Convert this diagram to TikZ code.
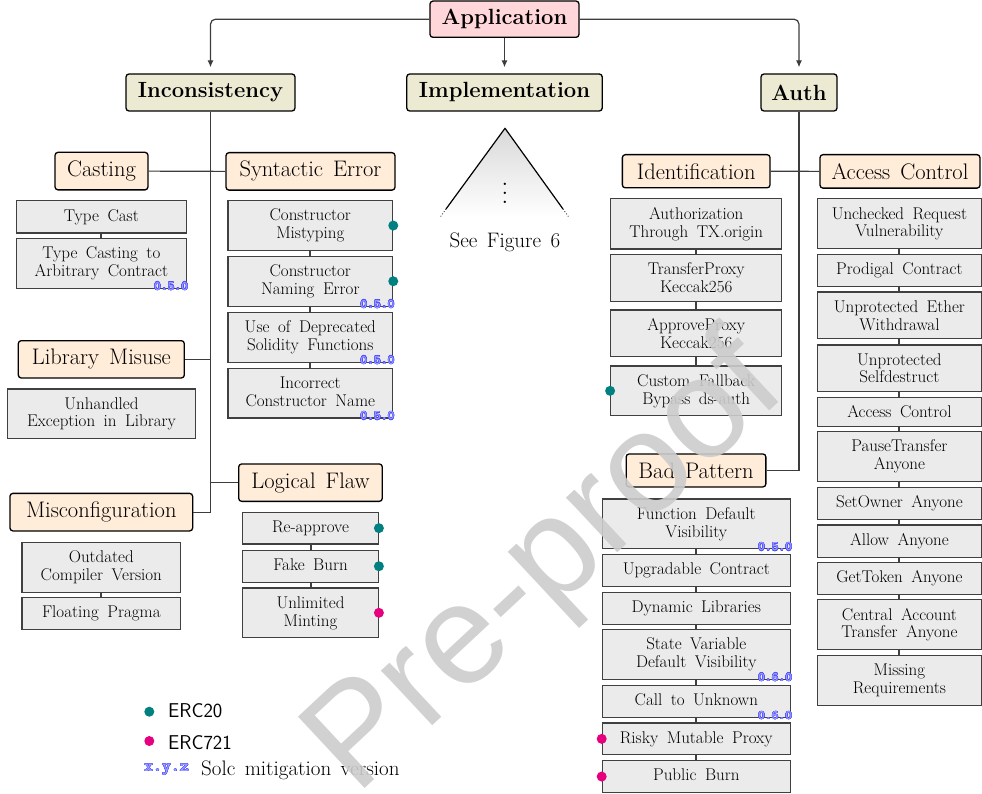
\documentclass[tikz,border=0pt]{standalone}
\usepackage{fontspec}
\usepackage{contour}
\usetikzlibrary{arrows.meta}
\newfontfamily\wmfont{Liberation Sans}

\definecolor{appfill}{RGB}{255,214,217}
\definecolor{lvlfill}{RGB}{237,234,211}
\definecolor{catfill}{RGB}{255,236,217}
\definecolor{itemfill}{RGB}{235,235,235}
\definecolor{itemline}{RGB}{64,64,64}
\definecolor{connline}{RGB}{60,60,60}
\definecolor{ercA}{RGB}{0,128,128}
\definecolor{ercB}{RGB}{230,0,126}
\definecolor{verline}{RGB}{80,80,255}
\definecolor{verfill}{RGB}{160,160,255}

\contourlength{0.45pt}
\newcommand\ver[1]{\contour{verline}{\textcolor{verfill}{#1}}}
\newcommand\itemfont{\fontsize{17}{17.9}\selectfont\spaceskip=0.5em plus 0.1em minus 0.05em\relax}
\newcommand\catfont{\fontsize{22.5}{27}\selectfont\spaceskip=0.45em plus 0.1em minus 0.05em\relax}
\newcommand\lvlfont{\fontsize{22}{26}\selectfont\bfseries}
\newcommand\verfont{\fontsize{13}{13}\selectfont\ttfamily\bfseries}
\newcommand\legverfont{\fontsize{17}{17}\selectfont\ttfamily\bfseries}
\newcommand\legfont{\fontsize{20}{24}\selectfont\sffamily}
\newcommand\notefont{\fontsize{21}{25}\selectfont\spaceskip=0.45em plus 0.1em minus 0.05em\relax}
\newcommand\markfont{\wmfont\fontsize{142}{142}\selectfont}

\tikzset{
  lvl/.style={draw=black, line width=1.3pt, rounded corners=3pt, fill=lvlfill,
    font=\lvlfont, minimum height=37pt, inner sep=0pt},
  appbox/.style={lvl, fill=appfill, minimum height=36.3pt},
  cat/.style={draw=black, line width=1.3pt, rounded corners=3pt, fill=catfill,
    font=\catfont, inner xsep=0pt, inner ysep=8.6pt, anchor=north},
  item/.style={draw=itemline, line width=1.2pt, fill=itemfill, font=\itemfont,
    align=center, inner xsep=1pt, inner ysep=8.4pt, anchor=north},
  dp/.style={text depth=3.3pt},
  conn/.style={draw=connline, line width=1.2pt},
  arr/.style={conn, rounded corners=5pt, -{Latex[length=7pt,width=6pt]}, shorten >=6pt},
  link/.style={draw=itemline, line width=2pt},
  dotA/.style={circle, fill=ercA, inner sep=0pt, minimum size=10pt},
  dotB/.style={circle, fill=ercB, inner sep=0pt, minimum size=10pt},
  ver/.style={font=\verfont, inner sep=0pt, anchor=base east},
  wm/.style={font=\markfont, text=black!20, opacity=0.9, rotate=43, inner sep=0pt}
}

\begin{document}
\begin{tikzpicture}[x=1pt, y=-1pt]
\useasboundingbox (0,0) rectangle (982,794);

% ---- top levels ----
\node[appbox, minimum width=149pt] (app) at (504.5,19.2) {Application};
\node[lvl, minimum width=169pt] (inc) at (210.5,92.5) {Inconsistency};
\node[lvl, minimum width=195.5pt] (impl) at (504.5,92.5) {Implementation};
\node[lvl, minimum width=76pt] (auth) at (799,92.5) {Auth};

\draw[arr] (app.west) -| (inc.north);
\draw[arr] (app.south) -- (impl.north);
\draw[arr] (app.east) -| (auth.north);

% ---- categories ----
\node[cat, minimum width=93pt] (cast) at (101.5,151.7) {Casting};
\node[cat, minimum width=169pt] (syn) at (310.5,152) {Syntactic Error};
\node[cat, minimum width=166pt] (lib) at (101.3,340) {Library Misuse};
\node[cat, minimum width=182.7pt] (misc) at (101.3,492.7) {Misconfiguration};
\node[cat, minimum width=143.6pt] (logic) at (310.5,463.3) {Logical Flaw};
\node[cat, minimum width=147.7pt] (ident) at (696.2,154) {Identification};
\node[cat, minimum width=160pt] (acc) at (900,154) {Access Control};
\node[cat, minimum width=139.7pt] (bad) at (696,453.3) {Bad Pattern};

\draw[conn] (cast.east) -- (syn.west);
\draw[conn] (ident.east) -- (acc.west);
\draw[conn] (inc.south) |- (misc.east);
\draw[conn] (lib.east) -- (lib.east -| inc.south);
\draw[conn] (logic.west -| inc.south) -- (logic.west);
\draw[conn] (auth.south) |- (bad.east);

% ---- implementation subtree placeholder ----
\shade[top color=black!15, bottom color=white] (505,128) -- (440,217.5) -- (569,217.5) -- cycle;
\draw[line width=1.2pt, line join=round] (446,209) -- (505,128.3) -- (563,209);
\draw[line width=0.8pt, dotted] (446,209) -- (440,217.5);
\draw[line width=0.8pt, dotted] (563,209) -- (569,217.5);
\node[inner sep=0pt] (dots) at (505,187) {\scalebox{2.2}{$\vdots$}};
\node[font=\notefont, inner sep=0pt] (see) at (505,242) {See Figure 6};

% ---- Casting ----
\node[item, minimum width=170pt] (c1) at (101.3,200.3) {Type Cast};
\node[item, minimum width=170pt] (c2) at (101.3,237.7) {Type Casting to\\Arbitrary Contract};
\draw[link] (c1.south) -- (c2.north);
\node[ver] (vc2) at ([xshift=1.5pt,yshift=-1.3pt]c2.south east) {\ver{0.5.0}};

% ---- Syntactic Error ----
\node[item, dp, minimum width=164.7pt] (s1) at (310.3,200) {Constructor\\Mistyping};
\node[item, dp, minimum width=164.7pt] (s2) at (310.3,255.7) {Constructor\\Naming Error};
\node[item, dp, minimum width=164.7pt] (s3) at (310.3,311.7) {Use of Deprecated\\Solidity Functions};
\node[item, dp, minimum width=164.7pt] (s4) at (310.3,367.7) {Incorrect\\Constructor Name};
\draw[link] (s1.south) -- (s2.north);
\draw[link] (s2.south) -- (s3.north);
\draw[link] (s3.south) -- (s4.north);
\node[dotA] (ds1) at (s1.east) {};
\node[dotA] (ds2) at (s2.east) {};
\node[ver] (vs2) at ([xshift=1.5pt,yshift=-1.3pt]s2.south east) {\ver{0.5.0}};
\node[ver] (vs3) at ([xshift=1.5pt,yshift=-1.3pt]s3.south east) {\ver{0.5.0}};
\node[ver] (vs4) at ([xshift=1.5pt,yshift=-1.3pt]s4.south east) {\ver{0.5.0}};

% ---- Library Misuse ----
\node[item, minimum width=188.4pt] (l1) at (101.5,388.3) {Unhandled\\Exception in Library};

% ---- Misconfiguration ----
\node[item, minimum width=158.7pt] (m1) at (101.3,541.7) {Outdated\\Compiler Version};
\node[item, minimum width=158.7pt] (m2) at (101.3,597) {Floating Pragma};
\draw[link] (m1.south) -- (m2.north);

% ---- Logical Flaw ----
\node[item, dp, minimum width=135.6pt] (f1) at (310.5,511.7) {Re-approve};
\node[item, dp, minimum width=135.6pt] (f2) at (310.5,549.7) {Fake Burn};
\node[item, dp, minimum width=135.6pt] (f3) at (310.5,587.3) {Unlimited\\Minting};
\draw[link] (f1.south) -- (f2.north);
\draw[link] (f2.south) -- (f3.north);
\node[dotA] (df1) at (f1.east) {};
\node[dotA] (df2) at (f2.east) {};
\node[dotB] (df3) at (f3.east) {};

% ---- Identification ----
\node[item, minimum width=171pt] (i1) at (696.2,198.3) {Authorization\\Through TX.origin};
\node[item, minimum width=171pt] (i2) at (696.2,254) {TransferProxy\\Keccak256};
\node[item, minimum width=171pt] (i3) at (696.2,309.3) {ApproveProxy\\Keccak256};
\node[item, dp, minimum width=171pt] (i4) at (696.2,365.3) {Custom Fallback\\Bypass ds-auth};
\draw[link] (i1.south) -- (i2.north);
\draw[link] (i2.south) -- (i3.north);
\draw[link] (i3.south) -- (i4.north);
\node[dotA] (di4) at (i4.west) {};

% ---- Bad Pattern ----
\node[item, dp, minimum width=188pt] (b1) at (696.3,498.3) {Function Default\\Visibility};
\node[item, minimum width=188pt] (b2) at (696.3,554) {Upgradable Contract};
\node[item, minimum width=188pt] (b3) at (696.3,591.7) {Dynamic Libraries};
\node[item, dp, minimum width=188pt] (b4) at (696.3,629) {State Variable\\Default Visibility};
\node[item, dp, minimum width=188pt] (b5) at (696.3,685) {Call to Unknown};
\node[item, dp, minimum width=188pt] (b6) at (696.3,722.3) {Risky Mutable Proxy};
\node[item, dp, minimum width=188pt] (b7) at (696.3,760) {Public Burn};
\draw[link] (b1.south) -- (b2.north);
\draw[link] (b2.south) -- (b3.north);
\draw[link] (b3.south) -- (b4.north);
\draw[link] (b4.south) -- (b5.north);
\draw[link] (b5.south) -- (b6.north);
\draw[link] (b6.south) -- (b7.north);
\node[ver] (vb1) at ([xshift=1.5pt,yshift=-1.3pt]b1.south east) {\ver{0.5.0}};
\node[ver] (vb4) at ([xshift=1.5pt,yshift=-1.3pt]b4.south east) {\ver{0.6.0}};
\node[ver] (vb5) at ([xshift=1.5pt,yshift=-1.3pt]b5.south east) {\ver{0.6.0}};
\node[dotB] (db6) at (b6.west) {};
\node[dotB] (db7) at (b7.west) {};

% ---- Access Control ----
\node[item, minimum width=164.2pt] (a1) at (899.4,198.3) {Unchecked Request\\Vulnerability};
\node[item, minimum width=164.2pt] (a2) at (899.4,254) {Prodigal Contract};
\node[item, minimum width=164.2pt] (a3) at (899.4,291.4) {Unprotected Ether\\Withdrawal};
\node[item, minimum width=164.2pt] (a4) at (899.4,344.3) {Unprotected\\Selfdestruct};
\node[item, minimum width=164.2pt] (a5) at (899.4,396.7) {Access Control};
\node[item, minimum width=164.2pt] (a6) at (899.4,430.7) {PauseTransfer\\Anyone};
\node[item, minimum width=164.2pt] (a7) at (899.4,486.7) {SetOwner Anyone};
\node[item, minimum width=164.2pt] (a8) at (899.4,524.3) {Allow Anyone};
\node[item, minimum width=164.2pt] (a9) at (899.4,561.7) {GetToken Anyone};
\node[item, minimum width=164.2pt] (a10) at (899.4,599) {Central Account\\Transfer Anyone};
\node[item, minimum width=164.2pt] (a11) at (899.4,655) {Missing\\Requirements};
\foreach \u/\v in {a1/a2,a2/a3,a3/a4,a4/a5,a5/a6,a6/a7,a7/a8,a8/a9,a9/a10,a10/a11}
  \draw[link] (\u.south) -- (\v.north);

% ---- legend ----
\node[dotA] (lgA) at (149.3,711.7) {};
\node[font=\legfont, anchor=base west, inner sep=0pt] (ltA) at (168,717.3) {ERC20};
\node[dotB] (lgB) at (149.3,741) {};
\node[font=\legfont, anchor=base west, inner sep=0pt] (ltB) at (168,749) {ERC721};
\node[font=\legverfont, anchor=base west, inner sep=0pt] (ltV) at (144,771.5) {\ver{x.y.z}};
\node[font=\notefont, anchor=base west, inner sep=0pt] (ltS) at (201,775.7) {Solc mitigation version};

% ---- watermark ----
\node[wm] (wmark) at (548,568) {Pre-proof};
\end{tikzpicture}
\end{document}
